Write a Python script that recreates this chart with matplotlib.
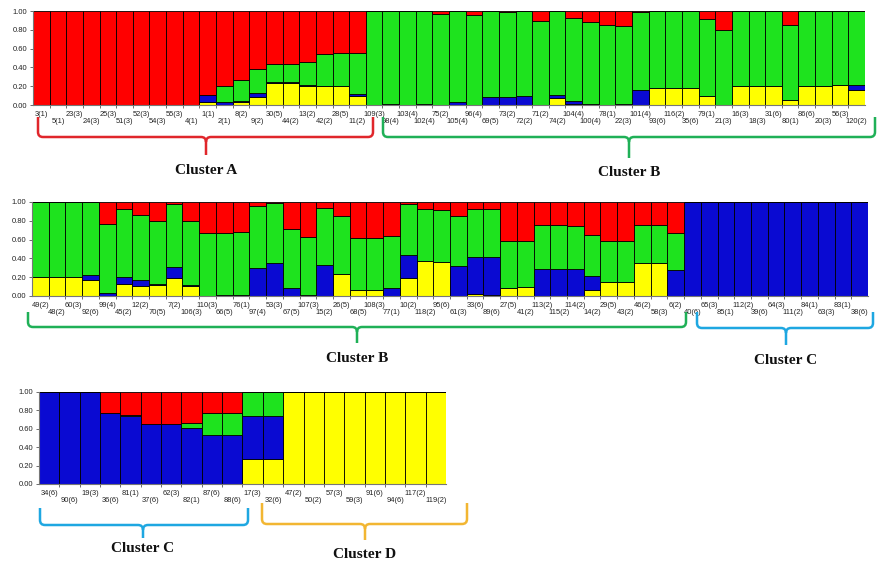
import matplotlib.pyplot as plt
from matplotlib.path import Path
from matplotlib.patches import PathPatch
from matplotlib.transforms import blended_transform_factory, offset_copy

# ---- data: membership proportions per individual (bottom -> top: yellow, blue, green, red)
labels1 = ['3(1)', '5(1)', '23(3)', '24(3)', '25(3)', '51(3)', '52(3)', '54(3)', '55(3)', '4(1)',
           '1(1)', '2(1)', '8(2)', '9(2)', '30(5)', '44(2)', '13(2)', '42(2)', '28(5)', '11(2)',
           '109(3)', '98(4)', '103(4)', '102(4)', '75(2)', '105(4)', '96(4)', '69(5)', '73(2)', '72(2)',
           '71(2)', '74(2)', '104(4)', '100(4)', '78(1)', '22(3)', '101(4)', '93(6)', '116(2)', '35(6)',
           '79(1)', '21(3)', '16(3)', '18(3)', '31(6)', '80(1)', '86(6)', '20(3)', '56(3)', '120(2)']
yellow1 = [0, 0, 0, 0, 0, 0, 0, 0, 0, 0,
           .03, 0, .03, .09, .23, .23, .20, .20, .20, .10,
           0, 0, 0, 0, 0, 0, 0, 0, 0, 0,
           0, .07, .01, 0, 0, 0, 0, .18, .18, .18,
           .10, 0, .20, .20, .20, .05, .20, .20, .21, .16]
blue1 = [0, 0, 0, 0, 0, 0, 0, 0, 0, 0,
         .08, .03, .01, .04, .01, .01, .01, 0, 0, .02,
         0, .01, 0, .01, 0, .03, 0, .08, .09, .10,
         0, .04, .03, .01, 0, .01, .16, 0, 0, 0,
         0, 0, 0, 0, 0, 0, 0, 0, 0, .05]
green1 = [0, 0, 0, 0, 0, 0, 0, 0, 0, 0,
          0, .17, .23, .25, .20, .20, .25, .34, .35, .43,
          1, .99, 1, .99, .97, .97, .96, .92, .90, .90,
          .89, .89, .89, .87, .85, .83, .83, .82, .82, .82,
          .81, .80, .80, .80, .80, .80, .80, .80, .79, .79]
red1 = [1, 1, 1, 1, 1, 1, 1, 1, 1, 1,
        .89, .80, .73, .62, .56, .56, .54, .46, .45, .45,
        0, 0, 0, 0, .03, 0, .04, 0, .01, 0,
        .11, 0, .07, .12, .15, .16, .01, 0, 0, 0,
        .09, .20, 0, 0, 0, .15, 0, 0, 0, 0]

labels2 = ['49(2)', '48(2)', '60(3)', '92(6)', '99(4)', '45(2)', '12(2)', '70(5)', '7(2)', '106(3)',
           '110(3)', '66(5)', '76(1)', '97(4)', '53(3)', '67(5)', '107(3)', '15(2)', '26(5)', '68(5)',
           '108(3)', '77(1)', '10(2)', '118(2)', '95(6)', '61(3)', '33(6)', '89(6)', '27(5)', '41(2)',
           '113(2)', '115(2)', '114(2)', '14(2)', '29(5)', '43(2)', '46(2)', '58(3)', '6(2)', '40(6)',
           '65(3)', '85(1)', '112(2)', '39(6)', '64(3)', '111(2)', '84(1)', '63(3)', '83(1)', '38(6)']
yellow2 = [.20, .20, .20, .17, 0, .13, .11, .12, .19, .11,
           .005, 0, .015, 0, 0, 0, 0, 0, .235, .065,
           .065, 0, .19, .375, .365, 0, .02, .01, .09, .10,
           0, 0, 0, .06, .15, .15, .35, .35, 0, 0,
           0, 0, 0, 0, 0, 0, 0, 0, 0, 0]
blue2 = [0, 0, 0, .05, .035, .075, .06, .01, .12, .01,
         0, .01, 0, .30, .35, .09, .01, .33, 0, 0,
         0, .09, .25, 0, 0, .32, .39, .40, 0, 0,
         .29, .29, .29, .15, 0, 0, 0, 0, .28, 1,
         1, 1, 1, 1, 1, 1, 1, 1, 1, 1]
green2 = [.80, .80, .80, .78, .735, .725, .69, .67, .665, .68,
          .665, .66, .665, .66, .64, .62, .62, .61, .615, .555,
          .555, .55, .54, .555, .555, .53, .52, .52, .49, .48,
          .47, .47, .46, .44, .44, .44, .41, .41, .385, 0,
          0, 0, 0, 0, 0, 0, 0, 0, 0, 0]
red2 = [0, 0, 0, 0, .23, .07, .14, .20, .025, .20,
        .33, .33, .32, .04, .01, .29, .37, .06, .15, .38,
        .38, .36, .02, .07, .08, .15, .07, .07, .42, .42,
        .24, .24, .25, .35, .41, .41, .24, .24, .335, 0,
        0, 0, 0, 0, 0, 0, 0, 0, 0, 0]

labels3 = ['34(6)', '90(6)', '19(3)', '36(6)', '81(1)', '37(6)', '62(3)', '82(1)', '87(6)', '88(6)',
           '17(3)', '32(6)', '47(2)', '50(2)', '57(3)', '59(3)', '91(6)', '94(6)', '117(2)', '119(2)']
yellow3 = [0, 0, 0, 0, 0, 0, 0, 0, 0, 0, .275, .275, 1, 1, 1, 1, 1, 1, 1, 1]
blue3 = [1, 1, 1, .77, .735, .65, .65, .61, .535, .535, .465, .465, 0, 0, 0, 0, 0, 0, 0, 0]
green3 = [0, 0, 0, 0, .015, 0, 0, .05, .235, .235, .26, .26, 0, 0, 0, 0, 0, 0, 0, 0]
red3 = [0, 0, 0, .23, .25, .35, .35, .34, .23, .23, 0, 0, 0, 0, 0, 0, 0, 0, 0, 0]

COLORS = ['#ffff00', '#0a0ad2', '#1ee31e', '#ff0000']

W, H = 878, 565
fig = plt.figure(figsize=(W / 100, H / 100), dpi=100)
plt.rcParams['font.family'] = ['Liberation Sans', 'DejaVu Sans']


def px_axes(x0, x1, y0, y1):
    # axes placed by pixel box (y measured from top)
    return fig.add_axes([x0 / W, 1 - y1 / H, (x1 - x0) / W, (y1 - y0) / H])


def structure_row(ax, labels, parts):
    n = len(labels)
    xs = list(range(n))
    bottom = [0.0] * n
    for vals, col in zip(parts, COLORS):
        ax.bar(xs, vals, width=1.0, bottom=bottom, color=col, edgecolor='black',
               linewidth=0.6, align='center')
        bottom = [b + v for b, v in zip(bottom, vals)]
    ax.set_xlim(-0.5, n - 0.5)
    ax.set_ylim(0, 1.0)
    ax.set_yticks([0, 0.2, 0.4, 0.6, 0.8, 1.0])
    ax.set_yticklabels(['0.00', '0.20', '0.40', '0.60', '0.80', '1.00'], fontsize=5.5, color='#222222')
    ax.set_xticks([])
    ax.set_xticks([i + 0.5 for i in range(n - 1)], minor=True)
    ax.tick_params(axis='x', which='minor', length=2.5, width=0.6, color='#555555')
    ax.tick_params(axis='y', length=2.5, width=0.6, color='#555555', pad=1.5)
    # staggered individual labels (two lines)
    trans = blended_transform_factory(ax.transData, ax.transAxes)
    for i, lab in enumerate(labels):
        dy = -6.5 if i % 2 == 0 else -12.0
        ax.text(i, 0, lab, fontsize=5.4, color='#222222', ha='center', va='center',
                transform=offset_copy(trans, fig=fig, y=dy, units='points'))
    for s in ['top', 'right']:
        ax.spines[s].set_visible(False)
    for s in ['left', 'bottom']:
        ax.spines[s].set_color('#777777')
        ax.spines[s].set_linewidth(0.8)


ax1 = px_axes(33, 865, 11, 105)
structure_row(ax1, labels1, [yellow1, blue1, green1, red1])
ax2 = px_axes(32, 868, 202, 296)
structure_row(ax2, labels2, [yellow2, blue2, green2, red2])
ax3 = px_axes(39, 446, 392, 484)
structure_row(ax3, labels3, [yellow3, blue3, green3, red3])

# overlay in pixel coordinates for the cluster braces
ov = fig.add_axes([0, 0, 1, 1], facecolor='none')
ov.set_xlim(0, W)
ov.set_ylim(H, 0)
ov.axis('off')


def brace(x0, x1, xc, ytop, yh, ytip, color, text, ty):
    r = 5
    verts = [(x0, ytop), (x0, yh - r), (x0, yh), (x0 + r, yh), (xc - r, yh), (xc, yh), (xc, yh + r),
             (xc, ytip),
             (xc, yh + r), (xc, yh), (xc + r, yh), (x1 - r, yh), (x1, yh), (x1, yh - r), (x1, ytop)]
    codes = [Path.MOVETO, Path.LINETO, Path.CURVE3, Path.CURVE3, Path.LINETO, Path.CURVE3, Path.CURVE3,
             Path.LINETO,
             Path.MOVETO, Path.CURVE3, Path.CURVE3, Path.LINETO, Path.CURVE3, Path.CURVE3, Path.LINETO]
    ov.add_patch(PathPatch(Path(verts, codes), fill=False, edgecolor=color, linewidth=1.8))
    ov.text(xc, ty, text, ha='center', va='center', fontsize=11, fontweight='bold',
            family=['Liberation Serif', 'DejaVu Serif'], color='#111111')


brace(38, 373, 206, 117, 137, 155, '#e0262b', 'Cluster A', 171)
brace(383, 875, 629, 117, 137, 158, '#1fb057', 'Cluster B', 173)
brace(28, 686, 357, 312, 327, 343, '#1fb057', 'Cluster B', 359)
brace(697, 873, 786, 312, 328, 345, '#1ea7e1', 'Cluster C', 361)
brace(40, 248, 143, 508, 525, 538, '#1ea7e1', 'Cluster C', 548)
brace(262, 467, 365, 503, 524, 540, '#f2b632', 'Cluster D', 554)

fig.savefig('out.png', dpi=100)
